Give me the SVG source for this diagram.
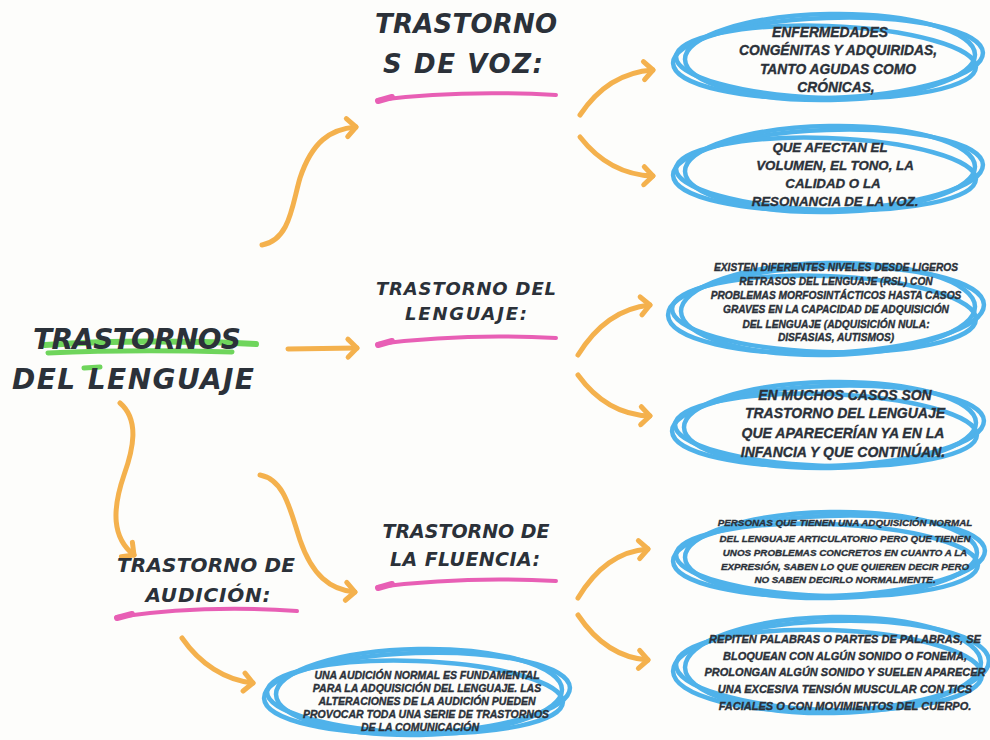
<svg xmlns="http://www.w3.org/2000/svg" width="990" height="740" viewBox="0 0 990 740">
<defs>
<style>
.t{font-family:"Liberation Sans","DejaVu Sans",sans-serif;font-weight:bold;font-style:italic;fill:#2b3139;stroke:#2b3139;stroke-width:0.35;text-anchor:middle}
.h{font-family:"DejaVu Sans","Liberation Sans",sans-serif;font-weight:bold;font-style:italic;fill:#2b3139;text-anchor:middle}
.arr{fill:none;stroke:#f4b14d;stroke-width:5;stroke-linecap:round;marker-end:url(#ah)}
.bl{fill:none;stroke:#4fb2ea;stroke-width:4.5}
.pk{fill:none;stroke:#e85fb5;stroke-linecap:round}
.gr{fill:none;stroke:#5fd04a;stroke-linecap:round;opacity:0.9}
</style>
<marker id="ah" markerUnits="userSpaceOnUse" markerWidth="30" markerHeight="30" refX="14" refY="12" orient="auto" overflow="visible">
<path d="M5,3 L14,12 L5,21" fill="none" stroke="#f4b14d" stroke-width="5" stroke-linecap="round" stroke-linejoin="round"/>
</marker>
</defs>
<rect width="990" height="740" fill="#fdfdfb"/>

<g id="connectors">
<path class="arr" d="M262,245 C290,240 292,205 300,178 C312,142 330,129 356,127"/>
<path class="arr" d="M580,115 C598,88 622,72 653,70"/>
<path class="arr" d="M580,137 C598,160 622,175 653,176"/>
<path class="arr" d="M288,349 L357,348"/>
<path class="arr" d="M578,355 C596,326 620,308 650,305"/>
<path class="arr" d="M578,375 C596,400 620,415 650,416"/>
<path class="arr" d="M578,598 C596,568 620,551 648,549"/>
<path class="arr" d="M578,615 C596,642 620,658 648,660"/>
<path class="arr" d="M120,403 C140,420 133,450 124,475 C112,510 112,538 134,555"/>
<path class="arr" d="M260,475 C285,480 290,510 300,540 C312,575 330,590 355,592"/>
<path class="arr" d="M182,638 C200,664 225,680 253,683"/>
</g>

<g id="main">
<path class="gr" d="M45,345 C120,340 190,341 256,344" stroke-width="6"/>
<path class="gr" d="M48,353 C110,350 170,350 232,352" stroke-width="5"/>
<path class="gr" d="M84,368 L100,367" stroke-width="5"/>
<text class="h" x="137" y="349" font-size="28" textLength="208">TRASTORNOS</text>
<text class="h" x="133" y="389" font-size="28" textLength="242">DEL LENGUAJE</text>
</g>

<g id="voz">
<text class="h" x="466" y="33" font-size="26" textLength="182">TRASTORNO</text>
<text class="h" x="463" y="73" font-size="26" textLength="160">S DE VOZ:</text>
<path class="pk" d="M378,100 C440,92 500,92 556,95" stroke-width="4"/>
<path class="pk" d="M378,101 L392,97" stroke-width="6"/>
</g>

<g id="lenguaje">
<text class="h" x="466" y="295" font-size="18" textLength="180">TRASTORNO DEL</text>
<text class="h" x="466" y="320" font-size="18" textLength="122">LENGUAJE:</text>
<path class="pk" d="M378,344 C440,336 500,335 556,338" stroke-width="4"/>
<path class="pk" d="M378,345 L392,341" stroke-width="6"/>
</g>

<g id="fluencia">
<text class="h" x="466" y="538" font-size="19" textLength="167">TRASTORNO DE</text>
<text class="h" x="465" y="566" font-size="19" textLength="150">LA FLUENCIA:</text>
<path class="pk" d="M378,587 C440,579 500,578 556,581" stroke-width="4"/>
<path class="pk" d="M378,588 L392,584" stroke-width="6"/>
</g>

<g id="audicion">
<text class="h" x="206" y="572" font-size="20" textLength="178">TRASTORNO DE</text>
<text class="h" x="208" y="602" font-size="20" textLength="125">AUDICIÓN:</text>
<path class="pk" d="M117,617 C180,608 240,607 297,611" stroke-width="4"/>
<path class="pk" d="M117,618 L132,614" stroke-width="6"/>
</g>

<g id="e1">
<ellipse class="bl" cx="828" cy="58" rx="155" ry="40" transform="rotate(-2 828 58)"/>
<ellipse class="bl" cx="826" cy="62" rx="150" ry="36" transform="rotate(2 826 62)"/>
<ellipse class="bl" cx="830" cy="57" rx="145" ry="43" transform="rotate(-1 830 57)"/>
<text class="t" x="830" y="37" font-size="13.8">ENFERMEDADES</text>
<text class="t" x="838" y="55" font-size="13.8">CONGÉNITAS Y ADQUIRIDAS,</text>
<text class="t" x="838" y="74" font-size="13.8">TANTO AGUDAS COMO</text>
<text class="t" x="836" y="92" font-size="13.8">CRÓNICAS,</text>
</g>

<g id="e2">
<ellipse class="bl" cx="828" cy="170" rx="155" ry="40" transform="rotate(-2 828 170)"/>
<ellipse class="bl" cx="826" cy="174" rx="150" ry="36" transform="rotate(2 826 174)"/>
<ellipse class="bl" cx="830" cy="169" rx="145" ry="43" transform="rotate(-1 830 169)"/>
<text class="t" x="830" y="152" font-size="13.3">QUE AFECTAN EL</text>
<text class="t" x="835" y="170" font-size="13.3">VOLUMEN, EL TONO, LA</text>
<text class="t" x="833" y="188" font-size="13.3">CALIDAD O LA</text>
<text class="t" x="835" y="206" font-size="13.3">RESONANCIA DE LA VOZ.</text>
</g>

<g id="e3">
<ellipse class="bl" cx="826" cy="310" rx="158" ry="43" transform="rotate(-2 826 310)"/>
<ellipse class="bl" cx="824" cy="314" rx="152" ry="38" transform="rotate(2 824 314)"/>
<ellipse class="bl" cx="828" cy="309" rx="147" ry="46" transform="rotate(-1 828 309)"/>
<text class="t" x="836" y="271" font-size="10.2">EXISTEN DIFERENTES NIVELES DESDE LIGEROS</text>
<text class="t" x="836" y="285" font-size="10.2">RETRASOS DEL LENGUAJE (RSL) CON</text>
<text class="t" x="836" y="299" font-size="10.2">PROBLEMAS MORFOSINTÁCTICOS HASTA CASOS</text>
<text class="t" x="836" y="313" font-size="10.2">GRAVES EN LA CAPACIDAD DE ADQUISICIÓN</text>
<text class="t" x="836" y="328" font-size="10.2">DEL LENGUAJE (ADQUISICIÓN NULA:</text>
<text class="t" x="836" y="341" font-size="10.2">DISFASIAS, AUTISMOS)</text>
</g>

<g id="e4">
<ellipse class="bl" cx="828" cy="426" rx="156" ry="40" transform="rotate(-2 828 426)"/>
<ellipse class="bl" cx="826" cy="430" rx="151" ry="36" transform="rotate(2 826 430)"/>
<ellipse class="bl" cx="830" cy="425" rx="146" ry="43" transform="rotate(-1 830 425)"/>
<text class="t" x="845" y="400" font-size="14">EN MUCHOS CASOS SON</text>
<text class="t" x="845" y="418" font-size="14">TRASTORNO DEL LENGUAJE</text>
<text class="t" x="843" y="438" font-size="14">QUE APARECERÍAN YA EN LA</text>
<text class="t" x="843" y="457" font-size="14">INFANCIA Y QUE CONTINÚAN.</text>
</g>

<g id="e5">
<ellipse class="bl" cx="829" cy="556" rx="156" ry="40" transform="rotate(-2 829 556)"/>
<ellipse class="bl" cx="827" cy="560" rx="151" ry="36" transform="rotate(2 827 560)"/>
<ellipse class="bl" cx="831" cy="555" rx="146" ry="43" transform="rotate(-1 831 555)"/>
<text class="t" x="845" y="526" font-size="9.8">PERSONAS QUE TIENEN UNA ADQUISICIÓN NORMAL</text>
<text class="t" x="845" y="542" font-size="9.8">DEL LENGUAJE ARTICULATORIO PERO QUE TIENEN</text>
<text class="t" x="845" y="556" font-size="9.8">UNOS PROBLEMAS CONCRETOS EN CUANTO A LA</text>
<text class="t" x="845" y="570" font-size="9.8">EXPRESIÓN, SABEN LO QUE QUIEREN DECIR PERO</text>
<text class="t" x="845" y="583" font-size="9.8">NO SABEN DECIRLO NORMALMENTE.</text>
</g>

<g id="e6">
<ellipse class="bl" cx="831" cy="666" rx="158" ry="45" transform="rotate(-2 831 666)"/>
<ellipse class="bl" cx="829" cy="670" rx="153" ry="40" transform="rotate(2 829 670)"/>
<ellipse class="bl" cx="833" cy="665" rx="148" ry="48" transform="rotate(-1 833 665)"/>
<text class="t" x="845" y="643" font-size="11">REPITEN PALABRAS O PARTES DE PALABRAS, SE</text>
<text class="t" x="845" y="660" font-size="11">BLOQUEAN CON ALGÚN SONIDO O FONEMA,</text>
<text class="t" x="845" y="676" font-size="11">PROLONGAN ALGÚN SONIDO Y SUELEN APARECER</text>
<text class="t" x="845" y="693" font-size="11">UNA EXCESIVA TENSIÓN MUSCULAR CON TICS</text>
<text class="t" x="845" y="710" font-size="11">FACIALES O CON MOVIMIENTOS DEL CUERPO.</text>
</g>

<g id="e7">
<ellipse class="bl" cx="417" cy="693" rx="153" ry="40" transform="rotate(-2 417 693)"/>
<ellipse class="bl" cx="415" cy="697" rx="148" ry="36" transform="rotate(2 415 697)"/>
<ellipse class="bl" cx="419" cy="692" rx="143" ry="43" transform="rotate(-1 419 692)"/>
<text class="t" x="427" y="679" font-size="10.5">UNA AUDICIÓN NORMAL ES FUNDAMENTAL</text>
<text class="t" x="427" y="692" font-size="10.5">PARA LA ADQUISICIÓN DEL LENGUAJE. LAS</text>
<text class="t" x="427" y="705" font-size="10.5">ALTERACIONES DE LA AUDICIÓN PUEDEN</text>
<text class="t" x="426" y="718" font-size="10.5">PROVOCAR TODA UNA SERIE DE TRASTORNOS</text>
<text class="t" x="420" y="731" font-size="10.5">DE LA COMUNICACIÓN</text>
</g>
</svg>
